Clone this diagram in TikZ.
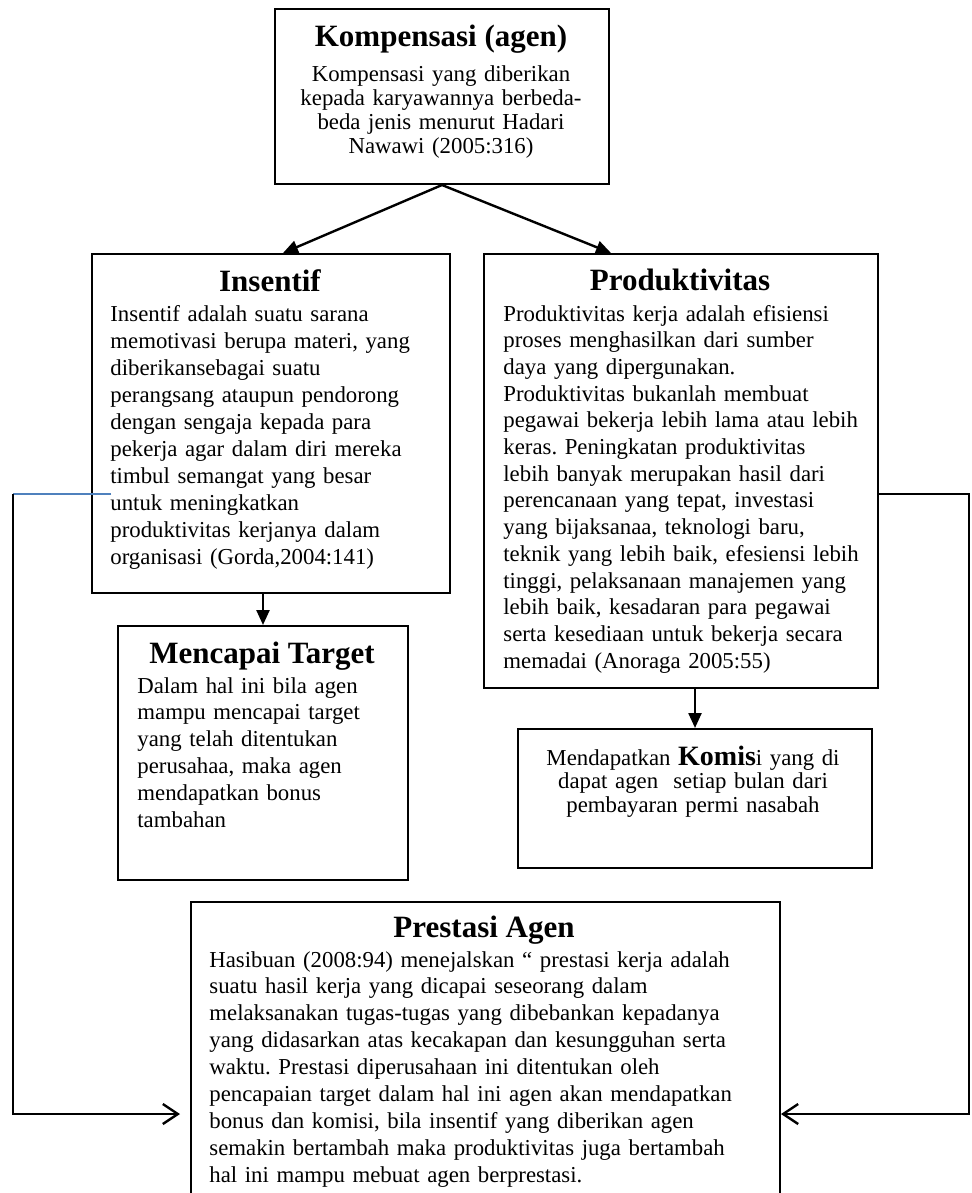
\documentclass[tikz,border=0pt]{standalone}
\usepackage{fontspec}
\setmainfont{Liberation Serif}
\usepackage{tikz}
\usetikzlibrary{arrows.meta}

\definecolor{wordblue}{HTML}{4F81BD}

\frenchspacing
\begin{document}
\begin{tikzpicture}[x=0.5pt,y=-0.5pt,
      box/.style={draw, line width=1pt, rectangle, inner sep=0pt, anchor=north west},
      ttl/.style={font=\fontsize{15.5}{18}\selectfont\bfseries, anchor=base, inner sep=0pt},
      txt/.style={font=\fontsize{11.4}{13.5}\selectfont, align=left, anchor=base west, inner sep=0pt},
      ctxt/.style={font=\fontsize{11.4}{12}\selectfont, align=center, anchor=base, inner sep=0pt},
      tri/.style={line width=1.2pt, -{Triangle[length=7.5pt,width=6.5pt]}},
      barb/.style={line width=1.2pt, -{Straight Barb[length=7.5pt,width=10pt]}}]

    \clip (0,0) rectangle (971,1193);

    % boxes (sizes in pt, half the pixel size)
    \node[box, minimum width=167pt, minimum height=87.5pt] (komp) at (274,8) {};
    \node[box, minimum width=179pt, minimum height=169.5pt] (ins) at (91,253) {};
    \node[box, minimum width=197pt, minimum height=217pt] (prod) at (483,253) {};
    \node[box, minimum width=145pt, minimum height=127pt] (menc) at (117,625) {};
    \node[box, minimum width=177pt, minimum height=69.5pt] (kom) at (517,728) {};
    \node[box, minimum width=294.5pt, minimum height=212pt] (prest) at (190,901) {};

    % texts
    \node[ttl] (kompT) at (441,47) {Kompensasi (agen)};
    \node[ctxt, text width=160pt] (kompB) at (441,82)
      {Kompensasi yang diberikan\\ kepada karyawannya berbeda-\\ beda jenis menurut Hadari\\ Nawawi (2005:316)};

    \node[ttl] (insT) at (270,291) {Insentif};
    \node[txt, text width=165pt] (insB) at (110,321)
      {Insentif adalah suatu sarana\\ memotivasi berupa materi, yang\\ diberikansebagai suatu\\ perangsang ataupun pendorong\\ dengan sengaja kepada para\\ pekerja agar dalam diri mereka\\ timbul semangat yang besar\\ untuk meningkatkan\\ produktivitas kerjanya dalam\\ organisasi (Gorda,2004:141)};

    \node[ttl] (prodT) at (680,290) {Produktivitas};
    \node[txt, text width=185pt, font=\fontsize{11.4}{13.35}\selectfont] (prodB) at (503,321)
      {Produktivitas kerja adalah efisiensi\\ proses menghasilkan dari sumber\\ daya yang dipergunakan.\\ Produktivitas bukanlah membuat\\ pegawai bekerja lebih lama atau lebih\\ keras. Peningkatan produktivitas\\ lebih banyak merupakan hasil dari\\ perencanaan yang tepat, investasi\\ yang bijaksanaa, teknologi baru,\\ teknik yang lebih baik, efesiensi lebih\\ tinggi, pelaksanaan manajemen yang\\ lebih baik, kesadaran para pegawai\\ serta kesediaan untuk bekerja secara\\ memadai (Anoraga 2005:55)};

    \node[ttl] (mencT) at (262,663) {Mencapai Target};
    \node[txt, text width=130pt, font=\fontsize{11.4}{13.4}\selectfont] (mencB) at (137,693)
      {Dalam hal ini bila agen\\ mampu mencapai target\\ yang telah ditentukan\\ perusahaa, maka agen\\ mendapatkan bonus\\ tambahan};

    \node[ctxt, text width=170pt, font=\fontsize{11.4}{11.75}\selectfont] (komB) at (693,765)
      {Mendapatkan {\fontsize{14}{14}\selectfont\bfseries Komis}i yang di\\ dapat agen \ setiap bulan dari\\ pembayaran permi nasabah};

    \node[ttl] (prestT) at (484,937) {Prestasi Agen};
    \node[txt, text width=280pt, font=\fontsize{11.4}{13.45}\selectfont] (prestB) at (209,967)
      {Hasibuan (2008:94) menejalskan “ prestasi kerja adalah\\ suatu hasil kerja yang dicapai seseorang dalam\\ melaksanakan tugas-tugas yang dibebankan kepadanya\\ yang didasarkan atas kecakapan dan kesungguhan serta\\ waktu. Prestasi diperusahaan ini ditentukan oleh\\ pencapaian target dalam hal ini agen akan mendapatkan\\ bonus dan komisi, bila insentif yang diberikan agen\\ semakin bertambah maka produktivitas juga bertambah\\ hal ini mampu mebuat agen berprestasi.};

    % arrows
    \draw[tri] (komp.south) -- ([xshift=6pt]ins.north);
    \draw[tri] (komp.south) -- ([xshift=-35pt]prod.north);
    \draw[tri] (menc.north |- ins.south) -- (menc.north);
    \draw[tri] (kom.north |- prod.south) -- (kom.north);

    % feedback lines to Prestasi Agen
    \coordinate (lin) at (111,494);
    \coordinate (lbend) at (13,494);
    \coordinate (rbend) at (969,494);
    \draw[wordblue, line width=0.8pt] (lin) -- (lbend);
    \draw[barb, shorten >=5pt] (lbend) |- (prest.west);
    \draw[barb] (prod.east |- rbend) -- (rbend) |- (prest.east);
\end{tikzpicture}
\end{document}
